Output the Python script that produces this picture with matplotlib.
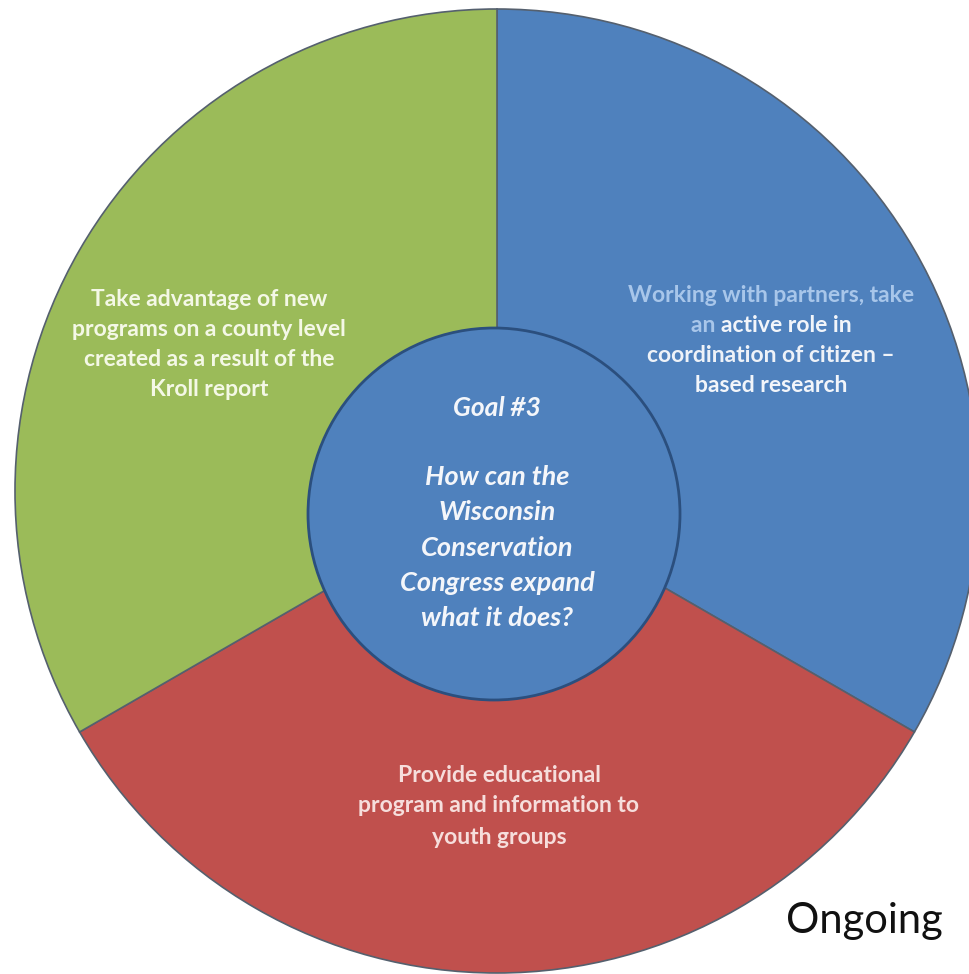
import matplotlib
matplotlib.use("Agg")
import matplotlib.pyplot as plt
from matplotlib.patches import Circle

# ---- data ----
segments = ["Working with partners", "Provide educational", "Take advantage"]
segment_values = [1, 1, 1]
segment_colors = ["#4F81BD", "#C0504D", "#9BBB59"]

green_lines = ["Take advantage of new", "programs on a county level",
               "created as a result of the", "Kroll report"]
blue_lines = ["Working with partners, take", ["an ", "active role in"],
              "coordination of citizen \u2013", "based research"]
red_lines = ["Provide educational", "program and information to", "youth groups"]
center_title = "Goal #3"
center_lines = ["How can the", "Wisconsin", "Conservation", "Congress expand", "what it does?"]
corner_label = "Ongoing"

W, H = 969, 974
fig = plt.figure(figsize=(W / 100, H / 100), dpi=100)
ax = fig.add_axes([0, 0, 1, 1])

def Y(py):
    return H - py

# outer pie
ax.pie(segment_values, colors=segment_colors, startangle=90, counterclock=False,
       center=(497, Y(491)), radius=482, frame=True,
       wedgeprops=dict(edgecolor="#55606e", linewidth=1.2))
ax.set_xlim(0, W)
ax.set_ylim(0, H)
ax.set_aspect("equal")
ax.axis("off")

# inner circle
ax.add_patch(Circle((494, Y(514)), 186, facecolor="#4F81BD", edgecolor="#2B4F7E",
                    linewidth=2.0, zorder=5))

FS = 16.5
bold = dict(family=["Lato", "DejaVu Sans"], fontweight="bold", va="center", zorder=6)

# green text
for i, line in enumerate(green_lines):
    ax.text(209, Y(299 + i * 30.3), line, color="#F4F8E6", fontsize=FS, ha="center", **bold)

# red text
for i, line in enumerate(red_lines):
    ax.text(499, Y(775 + i * 31), line, color="#F6DEDC", fontsize=FS, ha="center", **bold)

# blue text
light_blue = "#A8C6EA"
blue_colors = [light_blue, None, "#EEF2F8", "#F2F5FA"]
fig.canvas.draw()
renderer = fig.canvas.get_renderer()
inv = ax.transData.inverted()
for i, line in enumerate(blue_lines):
    y = Y(296 + i * 30)
    if isinstance(line, list):
        # measure the pieces to centre the composite line
        widths = []
        for piece in line:
            tmp = ax.text(0, 0, piece, fontsize=FS, **bold)
            bb = tmp.get_window_extent(renderer=renderer)
            widths.append(bb.width)
            tmp.remove()
        total = sum(widths)
        x = 771 - total / 2
        for piece, w, c in zip(line, widths, [light_blue, "#F2F5FA"]):
            ax.text(x, y, piece, color=c, fontsize=FS, ha="left", **bold)
            x += w
    else:
        ax.text(771, y, line, color=blue_colors[i], fontsize=FS, ha="center", **bold)

# center text
ital = dict(family=["Lato", "DejaVu Sans"], fontweight="bold", fontstyle="italic",
            ha="center", va="center", color="#F4F6FA", zorder=6)
ax.text(497, Y(408), center_title, fontsize=19, **ital)
for i, line in enumerate(center_lines):
    ax.text(497, Y(477 + i * 35.3), line, fontsize=19.5, **ital)

# corner label
ax.text(864, Y(921), corner_label, fontsize=30, family=["Lato", "DejaVu Sans"],
        fontweight="normal", color="#111111", ha="center", va="center", zorder=6)

fig.savefig("out.png", dpi=100)
